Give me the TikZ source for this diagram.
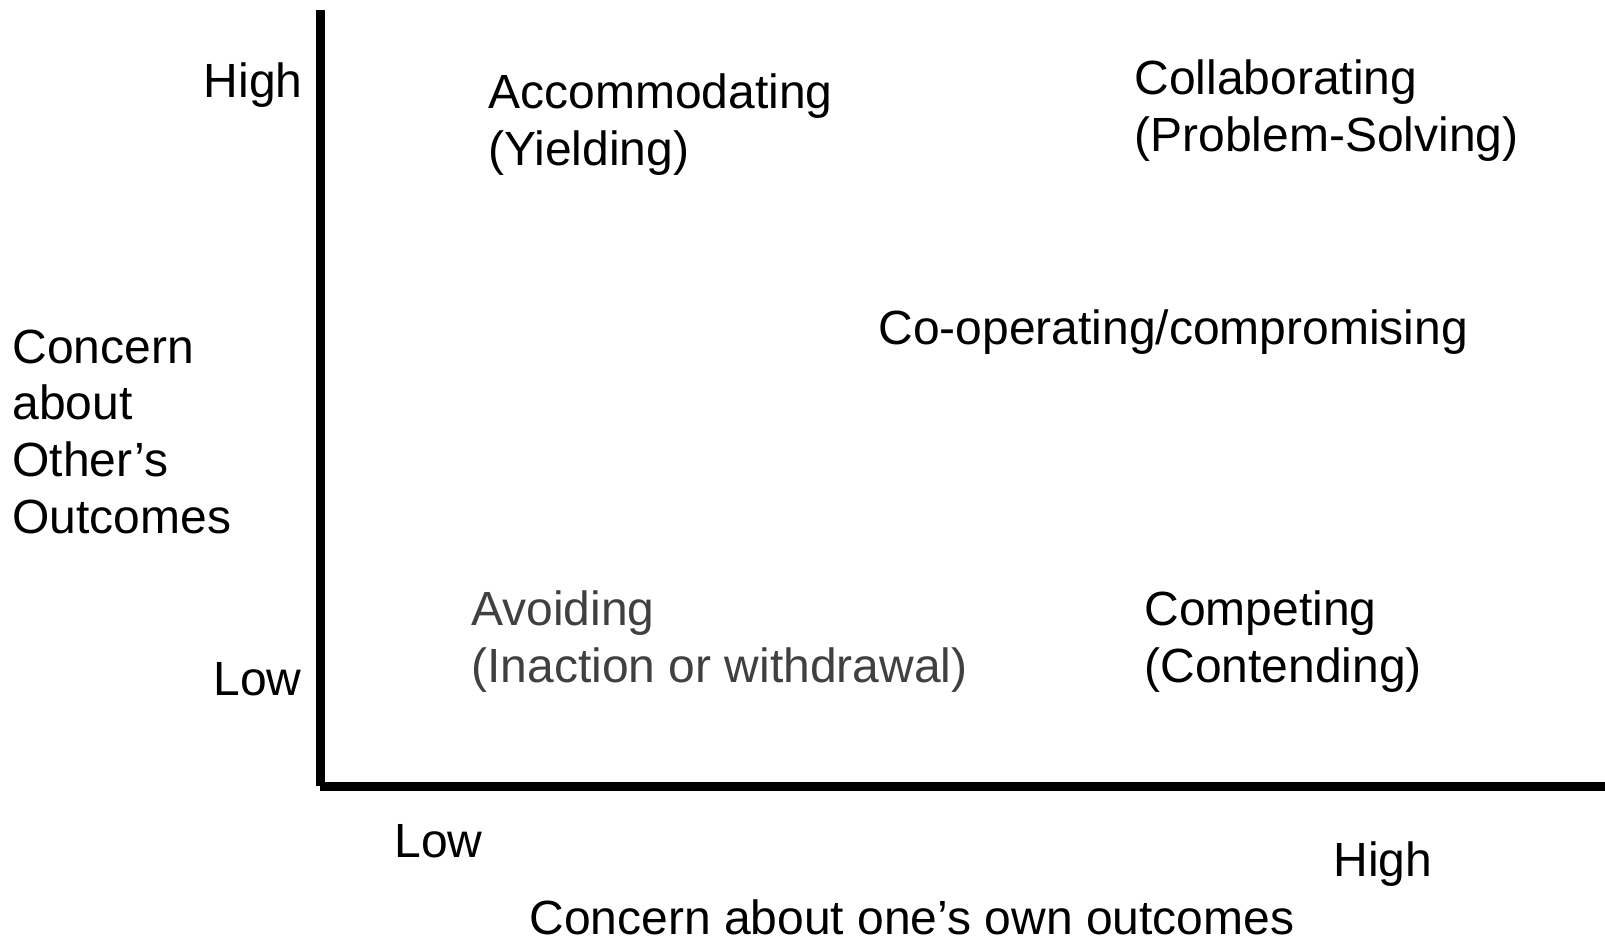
\documentclass[tikz,border=0pt]{standalone}
\usepackage{fontspec}
\setmainfont{Liberation Sans}
\usepackage{tikz}
\usetikzlibrary{positioning}
\definecolor{avoidGray}{RGB}{64,64,64}
\tikzstyle{chart} = [x = 0.5pt, y = -0.5pt]
\tikzstyle{axisLine} = [color=black, line width=4.5pt]
\tikzstyle{chartText} = [font=\fontsize{24}{28.3}\selectfont, inner sep=0pt, anchor=base west, align=left]
\tikzstyle{axisMark} = [chartText]
\tikzstyle{styleText} = [chartText]
\newcommand{\styleLabel}[4]{\node [styleText, #4] (#1) at #2 {#3};}

\begin{document}
\begin{tikzpicture}[chart]
  \useasboundingbox (0,0) rectangle (1605,942);
  % axes
  \coordinate (yTop) at (320.5,9.5);
  \coordinate (yFoot) at (320.5,786);
  \coordinate (xStart) at (320,786);
  \coordinate (xEnd) at (1605,786);
  \draw [axisLine] (yTop) -- (yFoot);
  \draw [axisLine] (xStart) -- (xEnd);

  % axis marks and titles (base = last line)
  \node [axisMark, anchor=base east] (yHigh) at (303,97) {High};
  \node [axisMark, anchor=base east] (yLow) at (302,695) {Low};
  \node [axisMark] (yTitle) at (12,533) {Concern\\about\\Other’s\\Outcomes};
  \node [axisMark] (xLow) at (394,857) {Low};
  \node [axisMark] (xHigh) at (1333,876) {High};
  \node [axisMark] (xTitle) at (529,934) {Concern about one’s own outcomes};

  % conflict styles
  \styleLabel{accommodating}{(488,165)}{Accommodating\\(Yielding)}{}
  \styleLabel{collaborating}{(1134,151)}{Collaborating\\(Problem-Solving)}{}
  \styleLabel{compromising}{(878,344)}{Co-operating/compromising}{}
  \styleLabel{avoiding}{(471,682)}{Avoiding\\(Inaction or withdrawal)}{text=avoidGray}
  \styleLabel{competing}{(1144,682)}{Competing\\(Contending)}{}
\end{tikzpicture}
\end{document}
